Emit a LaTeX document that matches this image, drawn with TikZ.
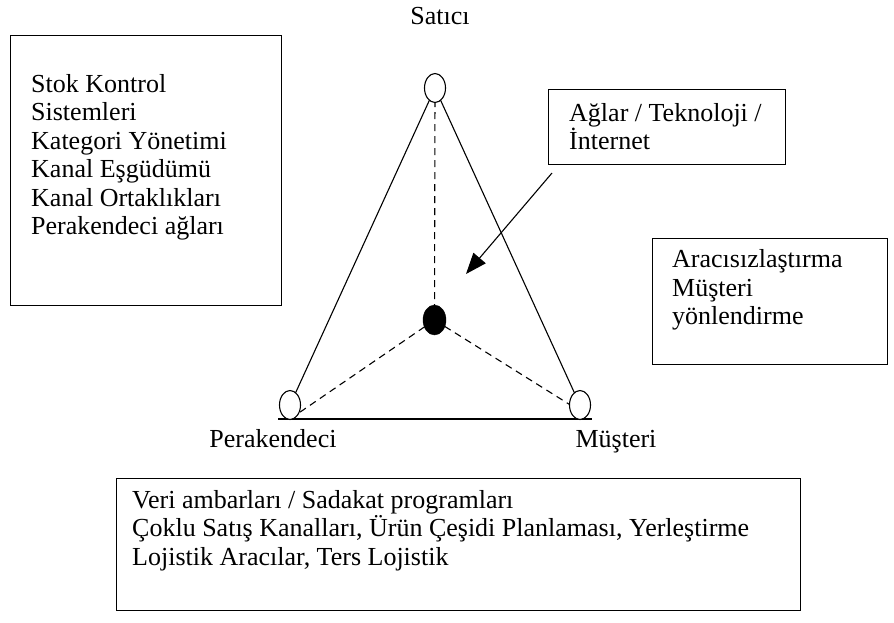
\documentclass[tikz,border=0pt]{standalone}
\usepackage{fontspec}
\setmainfont{Liberation Serif}
\usetikzlibrary{shapes.geometric,arrows.meta}
\begin{document}
\begin{tikzpicture}[x=1pt,y=-1pt,
 every node/.style={font=\fontsize{26}{28.5}\selectfont},
 box/.style={draw, line width=1.3pt, inner sep=0pt, anchor=north west},
 txt/.style={inner sep=0pt, anchor=base west},
 lbl/.style={inner sep=0pt, anchor=base},
 vert/.style={draw, ellipse, fill=white, line width=1.1pt, minimum width=21pt, minimum height=29pt, inner sep=0pt},
 hub/.style={draw, ellipse, fill=black, minimum width=23pt, minimum height=30pt, inner sep=0pt},
 side/.style={line width=1.1pt},
 spoke/.style={line width=1.1pt, dash pattern=on 7pt off 5pt}]

\useasboundingbox (0,0) rectangle (894,622);

% boxes
\node[box, minimum width=271pt, minimum height=270pt] (b1) at (10,35) {};
\node[txt] (t1a) at (31,92) {Stok Kontrol};
\node[txt] (t1b) at (31,120.5) {Sistemleri};
\node[txt] (t1c) at (31,149) {Kategori Yönetimi};
\node[txt] (t1d) at (31,177.5) {Kanal Eşgüdümü};
\node[txt] (t1e) at (31,206) {Kanal Ortaklıkları};
\node[txt] (t1f) at (31,234.5) {Perakendeci ağları};

\node[box, minimum width=237pt, minimum height=75pt] (b2) at (548,89) {};
\node[txt] (t2a) at (569,121) {Ağlar / Teknoloji /};
\node[txt] (t2b) at (569,149.5) {İnternet};

\node[box, minimum width=235pt, minimum height=126pt] (b3) at (652,238) {};
\node[txt] (t3a) at (672,267.5) {Aracısızlaştırma};
\node[txt] (t3b) at (672,296) {Müşteri};
\node[txt] (t3c) at (672,324.5) {yönlendirme};

\node[box, minimum width=684pt, minimum height=132pt] (b4) at (116,478) {};
\node[txt] (t4a) at (132,508) {Veri ambarları / Sadakat programları};
\node[txt] (t4b) at (132,536.5) {Çoklu Satış Kanalları, Ürün Çeşidi Planlaması, Yerleştirme};
\node[txt] (t4c) at (132,565) {Lojistik Aracılar, Ters Lojistik};

% labels
\node[lbl] (ls) at (440,24) {Satıcı};
\node[lbl] (lp) at (273,447) {Perakendeci};
\node[lbl] (lm) at (616,447) {Müşteri};

% triangle: lines first, vertices drawn over them
\coordinate (pa) at (435,88);
\coordinate (pl) at (290,405);
\coordinate (pr) at (580,405);
\coordinate (pc) at (434.5,320);
\coordinate (bl0) at (278,419);
\coordinate (br0) at (592,419);
\draw[side] (pa) -- (pl);
\draw[side] (pa) -- (pr);
\draw[side] (bl0) -- (br0);
\draw[spoke] (pa) -- (pc);
\draw[spoke] (pc) -- (pl |- bl0);
\draw[spoke] (pc) -- ([yshift=-6pt]pr);

\node[vert] (a) at (pa) {};
\node[vert] (bl) at (pl) {};
\node[vert] (br) at (pr) {};
\node[hub] (c) at (pc) {};

% arrow
\coordinate (as) at (552,173);
\coordinate (ae) at (466,274);
\draw[line width=1.1pt, -{Triangle[length=21pt,width=16pt]}] (as) -- (ae);
\end{tikzpicture}
\end{document}
